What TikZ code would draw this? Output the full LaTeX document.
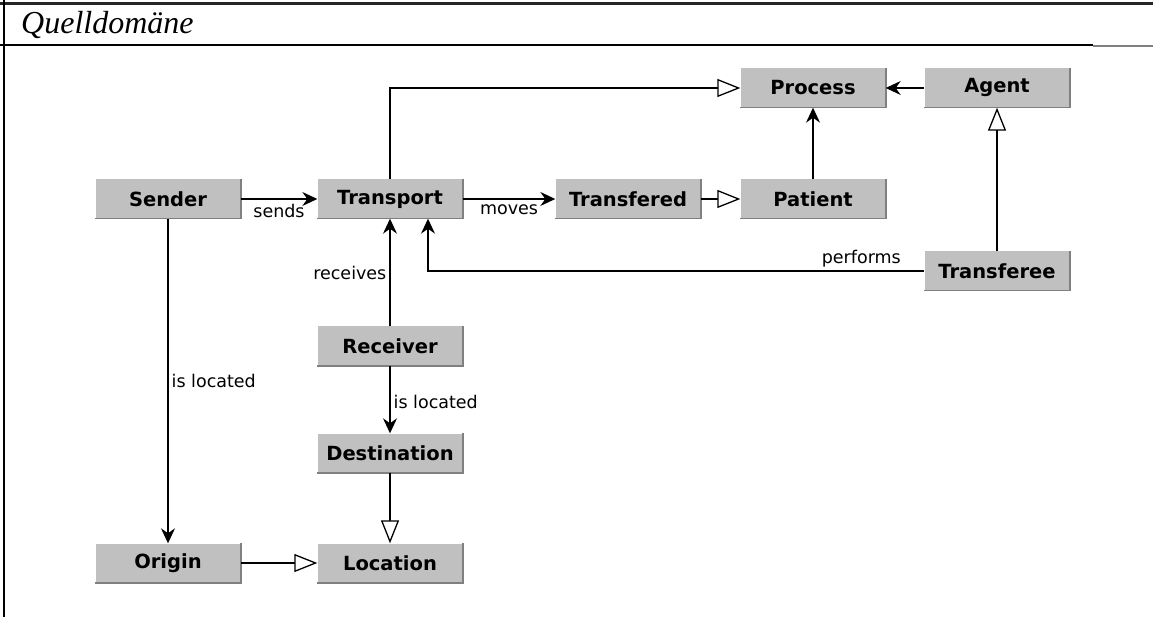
\documentclass[tikz,border=0pt]{standalone}
\usepackage{fontspec}
\setmainfont{DejaVu Sans}
\newfontfamily\headfont{Liberation Serif}
\usetikzlibrary{arrows.meta,positioning,calc}
\definecolor{boxgray}{HTML}{C0C0C0}
\definecolor{edgegray}{HTML}{808080}

\begin{document}
\begin{tikzpicture}[x=1pt,y=-1pt,>=Stealth,
  concept/.style={fill=boxgray,minimum width=145pt,minimum height=39pt,inner sep=0pt,font=\fontsize{19.5}{23}\selectfont\bfseries},
  rel/.style={line width=1.3pt,-{Stealth[length=15pt,width=14pt,inset=5pt]}},
  isa/.style={line width=1.3pt,-{Triangle[open,length=23pt,width=18pt,fill=white]}},
  lbl/.style={font=\fontsize{17.5}{21}\selectfont,inner sep=3pt}]
\useasboundingbox (0,0) rectangle (1153,617);
% frame
\draw[line width=3pt,black!85] (0,4)--(1153,4);
\draw[line width=2pt] (3.5,0)--(3.5,617);
\draw[line width=1.5pt] (0,45)--(1093,45);
\draw[line width=1.5pt,edgegray] (1093,46)--(1153,46);
\node[anchor=base west,inner sep=0pt,font=\headfont\itshape\fontsize{32}{37}\selectfont] (title) at (21,34) {Quelldomäne};
% concepts
\node[concept] (sender) at (168,199) {Sender};
\node[concept] (transport) at (390,199) {Transport};
\node[concept] (transfered) at (628,199) {Transfered};
\node[concept] (patient) at (813,199) {Patient};
\node[concept] (process) at (813,88) {Process};
\node[concept] (agent) at (997,88) {Agent};
\node[concept] (transferee) at (997,271) {Transferee};
\node[concept] (receiver) at (390,346) {Receiver};
\node[concept] (destination) at (390,453) {Destination};
\node[concept] (origin) at (168,563) {Origin};
\node[concept] (location) at (390,563) {Location};
\foreach \n in {sender,transport,transfered,patient,process,agent,transferee,receiver,destination,origin,location}
  \draw[edgegray,line width=1.6pt] (\n.south west) -- (\n.south east) -- (\n.north east);
% relations
\draw[rel] (sender) -- node[lbl,below,yshift=-2pt] (sendslbl) {sends} (transport);
\draw[rel] (transport) -- node[lbl,below,yshift=-2pt] (moveslbl) {moves} (transfered);
\draw[isa] (transfered) -- (patient);
\draw[rel] (patient) -- (process);
\draw[rel] (agent) -- (process);
\draw[isa] (transport.north) |- (process.west);
\draw[isa] (transferee) -- (agent);
\draw[rel] (transferee.west) -| node[lbl,pos=0.02,anchor=south east] (performslbl) {performs} ([xshift=38pt]transport.south);
\draw[rel] (receiver) -- node[lbl,left] (receiveslbl) {receives} (transport);
\draw[rel] (receiver) -- node[lbl,right,yshift=-2pt] (locatedlbl) {is located} (destination);
\draw[isa] (destination) -- (location);
\draw[rel] (sender) -- node[lbl,right] (originlbl) {is located} (origin);
\draw[isa] (origin) -- (location);
\end{tikzpicture}
\end{document}
